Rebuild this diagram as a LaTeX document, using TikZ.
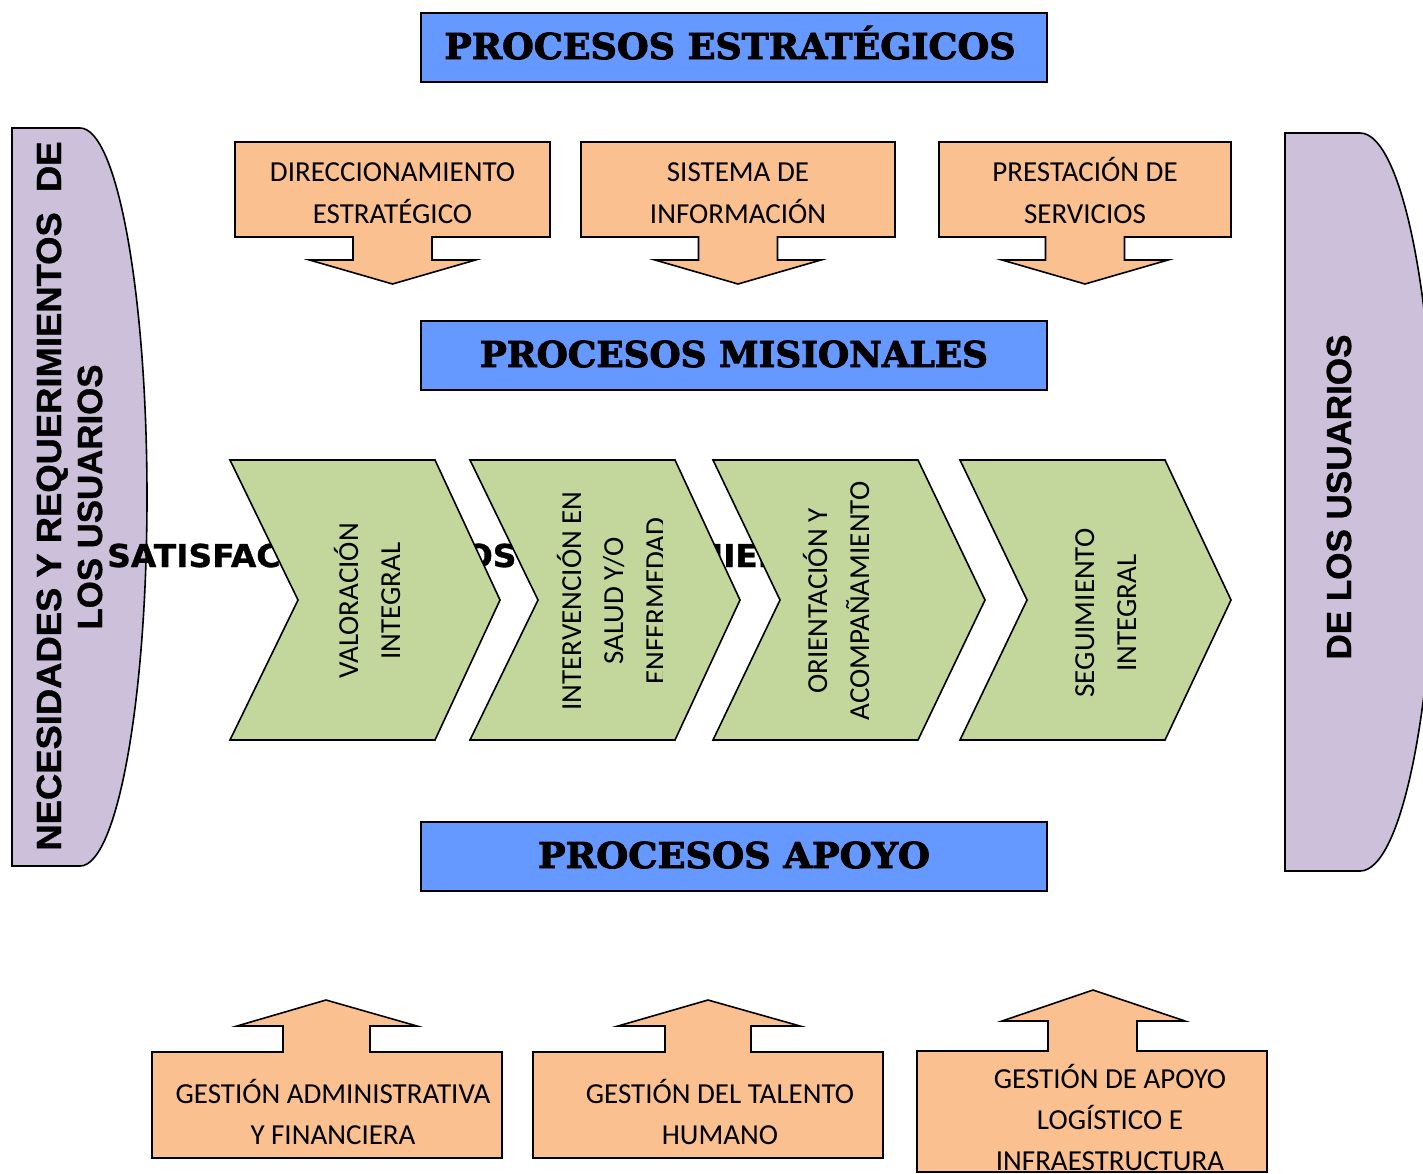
\documentclass[tikz,border=0pt]{standalone}
\usepackage{fontspec}
\usepackage{graphicx}
\setmainfont{Carlito}
\newfontfamily\titlefont{DejaVu Serif Bold}[FakeBold=2.5]
\newfontfamily\sidefont{Liberation Sans Bold}[FakeBold=1]
\newfontfamily\satfont{DejaVu Sans Bold}[FakeBold=1]
\definecolor{blueT}{RGB}{102,153,255}
\definecolor{orangeB}{RGB}{250,192,144}
\definecolor{greenC}{RGB}{195,214,155}
\definecolor{purpleS}{RGB}{204,192,218}
\newcommand\fitcap[3]{\resizebox{#1}{#2}{\rule{0pt}{\fontcharht\font`H}\smash{#3}}}
\newlength\satA
\newlength\satB
\newcommand\downbox[3]{%
  \draw[orangebox] (#1,142) -- (#2,142) -- (#2,237) -- ({#3+39.5},237) -- ({#3+39.5},260) -- ({#3+83},260) -- (#3,284) -- ({#3-83},260) -- ({#3-39.5},260) -- ({#3-39.5},237) -- (#1,237) -- cycle;}
\tikzset{
  titlebox/.style={draw=black, line width=1.8pt, fill=blueT},
  orangebox/.style={draw=black, line width=1.6pt, fill=orangeB, line join=miter},
  chev/.style={draw=black, line width=1.6pt, fill=greenC, line join=miter},
  side/.style={draw=black, line width=1.6pt, fill=purpleS},
  titletext/.style={font=\titlefont, anchor=base, inner sep=0},
  sidetext/.style={font=\sidefont, rotate=90, anchor=base, inner sep=0},
  boxtext/.style={font=\fontsize{29}{41}\selectfont, align=center, inner sep=0, anchor=base},
  topboxtext/.style={font=\fontsize{29}{42}\selectfont, align=center, inner sep=0, anchor=base},
  chevtext/.style={font=\fontsize{29}{42}\selectfont, align=center, inner sep=0, rotate=90, anchor=base},
}
\begin{document}
\settowidth\satA{\satfont SATISFACCIÓN DE LOS REQUERIM}%
\settowidth\satB{\satfont SATISFACCIÓN DE LOS REQUERIMIENTOS}%
\pgfmathsetmacro\satw{616*(\satB/\satA)}%
\begin{tikzpicture}[x=1pt,y=-1pt]
\useasboundingbox[fill=white] (0,0) rectangle (1423,1173);

% title boxes
\draw[titlebox] (421,13) rectangle (1047,82);
\node[titletext] (ttl1) at (730,59) {\fitcap{571pt}{26pt}{PROCESOS ESTRATÉGICOS}};
\draw[titlebox] (421,321) rectangle (1047,390);
\node[titletext] (ttl2) at (734,367) {\fitcap{508pt}{26pt}{PROCESOS MISIONALES}};
\draw[titlebox] (421,822) rectangle (1047,891);
\node[titletext] (ttl3) at (734,868) {\fitcap{392pt}{26pt}{PROCESOS APOYO}};

% strategic boxes (down arrows)
\downbox{235}{550}{392.5}
\node[topboxtext] (s1) at (392.5,223) {DIRECCIONAMIENTO\\ESTRATÉGICO};
\downbox{581}{895}{738}
\node[topboxtext] (s2) at (738,223) {SISTEMA DE\\INFORMACIÓN};
\downbox{939}{1231}{1085}
\node[topboxtext] (s3) at (1085,223) {PRESTACIÓN DE\\SERVICIOS};

% side shapes
\draw[side] (12,128) -- (80,128) arc[start angle=-90, end angle=90, x radius=67, y radius=369] -- (12,866) -- cycle;
\node[sidetext] (nl1) at (61,496) {\fitcap{709pt}{24pt}{NECESIDADES Y REQUERIMIENTOS\ \ DE}};
\node[sidetext] (nl2) at (102,497) {\fitcap{265pt}{24pt}{LOS USUARIOS}};
\draw[side] (1285,133) -- (1360,133) arc[start angle=-90, end angle=90, x radius=75, y radius=369] -- (1285,871) -- cycle;
\node[sidetext] (nr1) at (1351,497) {\fitcap{325pt}{24pt}{DE LOS USUARIOS}};

% text partly hidden behind the chevrons
\node[font=\satfont, anchor=base west, inner sep=0] (sat) at (107,567) {\resizebox{\satw pt}{23pt}{\rule{0pt}{\fontcharht\font`H}\smash{SATISFACCIÓN DE LOS REQUERIMIENTOS}}};

% chevrons
\draw[chev] (230,460) -- (435,460) -- (500,600) -- (435,740) -- (230,740) -- (298,600) -- cycle;
\draw[chev] (470,460) -- (675,460) -- (740,600) -- (675,740) -- (470,740) -- (538,600) -- cycle;
\draw[chev] (713,460) -- (918,460) -- (985,600) -- (918,740) -- (713,740) -- (780,600) -- cycle;
\draw[chev] (960,460) -- (1165,460) -- (1231,600) -- (1165,740) -- (960,740) -- (1027,600) -- cycle;
\node[chevtext] (c1) at (400,601) {VALORACIÓN\\INTEGRAL};
\begin{scope}
\clip (470,460) rectangle (662,740);
\node[chevtext] (c2) at (665,601) {INTERVENCIÓN EN\\SALUD Y/O\\ENFERMEDAD};
\end{scope}
\node[chevtext] (c3) at (869,601) {ORIENTACIÓN Y\\ACOMPAÑAMIENTO};
\node[chevtext] (c4) at (1136,613) {SEGUIMIENTO\\INTEGRAL};

% support boxes (up arrows)
\draw[orangebox] (152,1052) -- (283,1052) -- (283,1026) -- (237,1026) -- (326,1000) -- (417,1026) -- (370,1026) -- (370,1052) -- (502,1052) -- (502,1158) -- (152,1158) -- cycle;
\node[boxtext] (a1) at (333,1144) {GESTIÓN ADMINISTRATIVA\\Y FINANCIERA};
\draw[orangebox] (533,1052) -- (665,1052) -- (665,1026) -- (618,1026) -- (708,1000) -- (800,1026) -- (751,1026) -- (751,1052) -- (883,1052) -- (883,1158) -- (533,1158) -- cycle;
\node[boxtext] (a2) at (720,1144) {GESTIÓN DEL TALENTO\\HUMANO};
\draw[orangebox] (917,1051) -- (1048,1051) -- (1048,1021) -- (1002,1021) -- (1093,990) -- (1185,1021) -- (1137,1021) -- (1137,1051) -- (1267,1051) -- (1267,1172) -- (917,1172) -- cycle;
\begin{scope}
\clip (917,1051) rectangle (1267,1171);
\node[boxtext] (a3) at (1110,1170) {GESTIÓN DE APOYO\\LOGÍSTICO E\\INFRAESTRUCTURA};
\end{scope}
\end{tikzpicture}
\end{document}
